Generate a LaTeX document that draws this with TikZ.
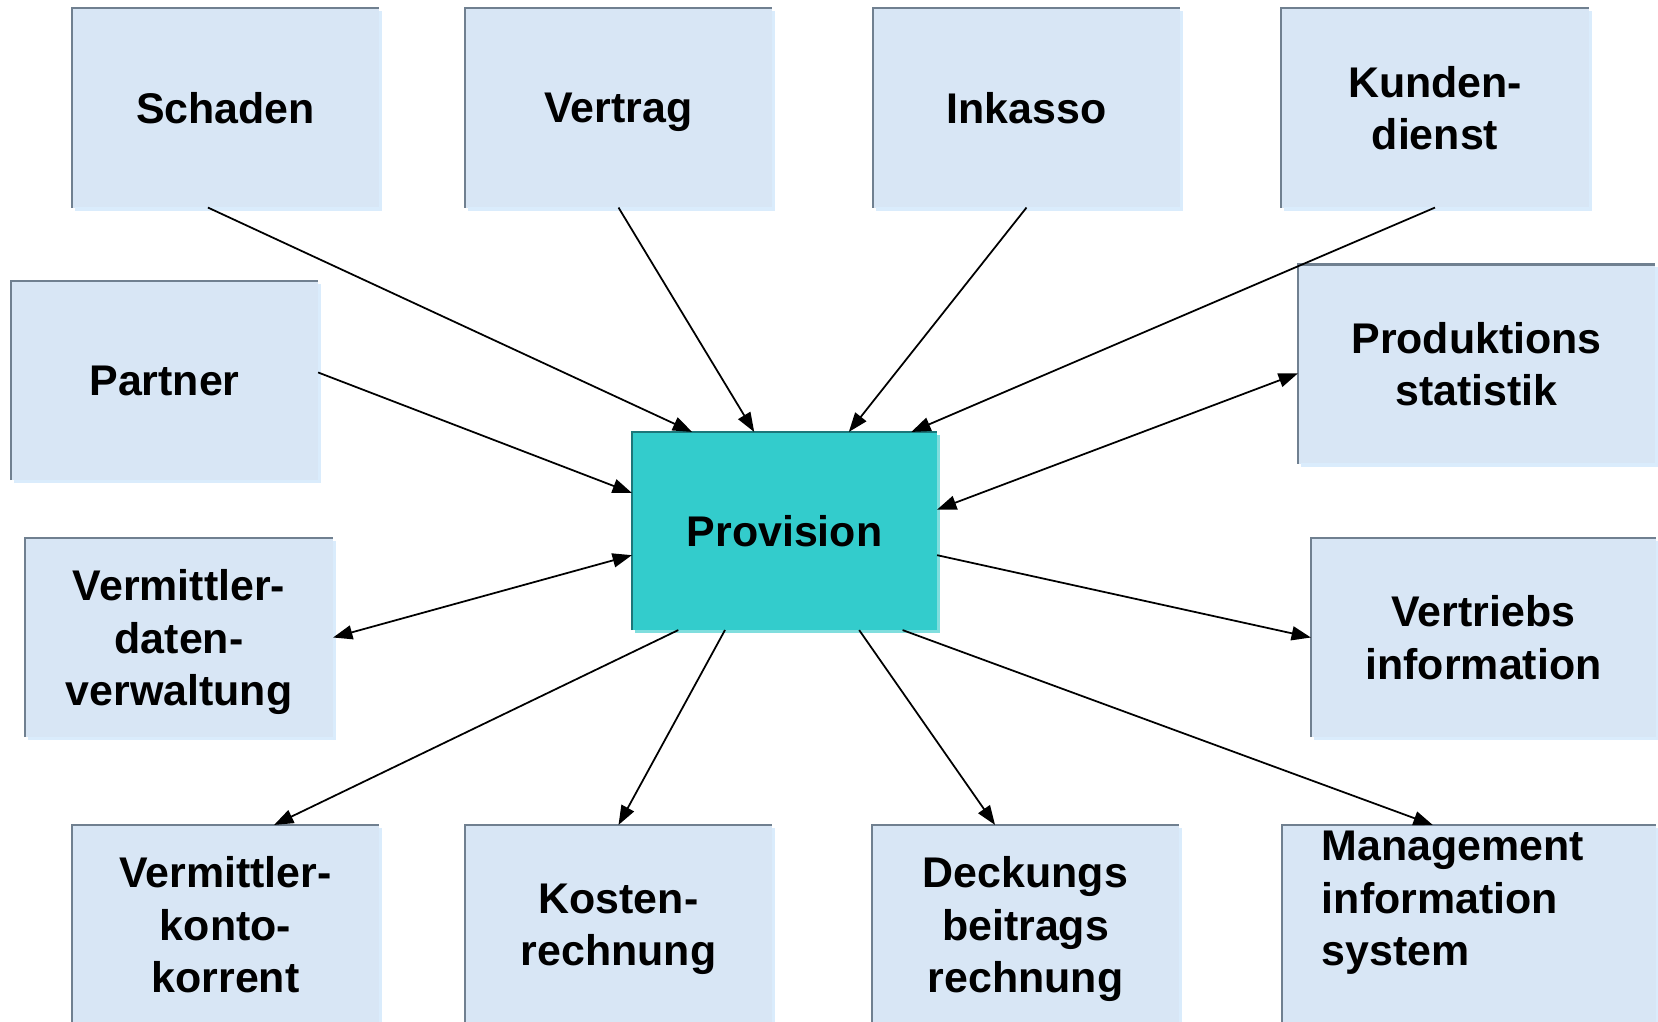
\documentclass[tikz,border=0pt]{standalone}
\usepackage{fontspec}
\setmainfont{Liberation Sans}
\usetikzlibrary{arrows.meta}

\definecolor{cardblue}{RGB}{216,230,245}
\definecolor{cardedge}{RGB}{112,128,144}
\definecolor{cardshadow}{RGB}{218,236,252}
\definecolor{provfill}{RGB}{51,204,204}
\definecolor{provedge}{RGB}{28,118,122}
\definecolor{provshadow}{RGB}{128,222,222}

\begin{document}
\begin{tikzpicture}[x=0.01cm, y=-0.01cm]

      \tikzset{
        card text/.style={
          font=\bfseries\fontsize{12.2}{14.9}\selectfont,
        },
        card/.style={
          card text,
          rectangle,
          fill=cardblue,
          inner sep=0pt,
          outer sep=0pt,
          minimum width=3.07cm,
          minimum height=1.99cm,
          align=center,
          text depth=0pt,
        },
        stack/.style={text depth=-1.6pt},
        hub/.style={
          card,
          fill=provfill,
          minimum width=3.05cm,
          minimum height=1.98cm,
        },
        card edge/.style={draw=cardedge, line width=0.6pt},
        card shadow/.style={draw=cardshadow, line width=0.9pt},
        link/.style={
          line width=0.5pt,
          -{Triangle[length=5.5pt,width=4pt]},
        },
        link both/.style={
          line width=0.5pt,
          {Triangle[length=5.5pt,width=4pt]}-{Triangle[length=5.5pt,width=4pt]},
        },
      }

      \useasboundingbox (0,0) rectangle (1658,1021);

      % top row
      \node[card] (schaden) at (225.5,108) {Schaden};
      \node[card] (vertrag) at (618.5,108) {Vertrag};
      \node[card] (inkasso) at (1026.5,108) {Inkasso};
      \node[card, stack] (kunden) at (1435,108) {Kunden-\\dienst};

      % side columns
      \node[card] (partner) at (164.5,380.5) {Partner};
      \node[card, stack, minimum width=3.57cm] (produktion) at (1476.5,364) {Produktions\\statistik};
      \node[card, stack, minimum width=3.08cm] (vdaten) at (179,637.5) {Vermittler-\\daten-\\verwaltung};
      \node[card, stack, minimum width=3.45cm] (vertrieb) at (1483.5,637.5) {Vertriebs\\information};

      % bottom row
      \node[card, stack] (vkonto) at (225.5,924.5) {Vermittler-\\konto-\\korrent};
      \node[card, stack] (kosten) at (618.5,924.5) {Kosten-\\rechnung};
      \node[card, stack, minimum width=3.06cm] (deckung) at (1025.5,924.5) {Deckungs\\beitrags\\rechnung};
      \node[card, minimum width=3.74cm] (mis) at (1469,924.5) {};
      \node[card text, align=left, inner sep=0pt] (mistext) at (1453,903) {Management\\information\\system};

      \foreach \n in {schaden,vertrag,inkasso,kunden,partner,produktion,
                      vdaten,vertrieb,vkonto,kosten,deckung,mis} {
        \draw[card shadow] ([shift={(3,1.5)}]\n.south west) -| ([shift={(1.5,3)}]\n.north east);
        \draw[card edge] (\n.south west) |- (\n.north east);
      }

      % centre
      \node[hub] (prov) at (784.5,531) {Provision};
      \draw[card shadow, draw=provshadow] ([shift={(3,1.5)}]prov.south west) -| ([shift={(1.5,3)}]prov.north east);
      \draw[card edge, draw=provedge] (prov.south west) |- (prov.north east);

      \foreach \a/\b in {schaden.260/prov.133, vertrag.south/prov.107,
                         inkasso.south/prov.57, kunden.south/prov.38,
                         partner.3/prov.166, prov.-9/vertrieb.west,
                         prov.223/vkonto.64, prov.239/kosten.north,
                         prov.307/deckung.107, prov.320/mis.110} {
        \draw[link] (\a) -- (\b);
      }

      \draw[link both] (prov.8) -- (produktion.183);
      \draw[link both] (prov.189) -- (vdaten.east);

    \end{tikzpicture}
\end{document}
